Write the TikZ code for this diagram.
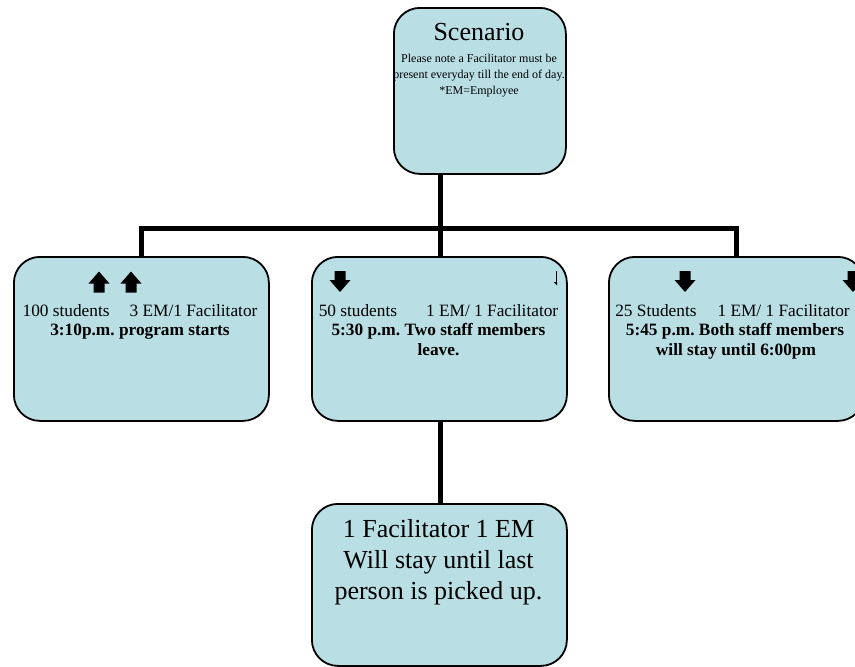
\documentclass[tikz,border=0pt]{standalone}
\usepackage{fontspec}
\setmainfont{Liberation Serif}
\frenchspacing
\definecolor{boxfill}{RGB}{185,223,228}
\tikzset{
  box/.style={draw=black, line width=1.8pt, fill=boxfill, rounded corners=26pt, inner sep=0pt, anchor=north west},
  conn/.style={line width=5pt, line join=miter},
  mid/.style={inner sep=0pt, anchor=base, font=\fontsize{17.3}{20}\selectfont},
  midb/.style={mid, font=\fontsize{17.3}{20}\selectfont\bfseries},
  big/.style={inner sep=0pt, anchor=base, font=\fontsize{26}{30}\selectfont},
  small/.style={inner sep=0pt, anchor=base, font=\fontsize{12}{14}\selectfont},
  uparr/.pic={\fill[black] (0,-10.5) -- (10.5,1.5) -- (5.5,1.5) -- (5.5,10.5) -- (-5.5,10.5) -- (-5.5,1.5) -- (-10.5,1.5) -- cycle;},
  dnarr/.pic={\fill[black] (0,10.5) -- (10.5,-1.5) -- (5.5,-1.5) -- (5.5,-10.5) -- (-5.5,-10.5) -- (-5.5,-1.5) -- (-10.5,-1.5) -- cycle;}
}
\begin{document}
\begin{tikzpicture}[x=1pt,y=-1pt]
\useasboundingbox (0,0) rectangle (855,667);
\clip (0,0) rectangle (855,667);
% boxes
\node[box, minimum width=172pt, minimum height=166pt] (scen) at (393,7) {};
\node[box, minimum width=255pt, minimum height=164pt] (left) at (13,256) {};
\node[box, minimum width=255pt, minimum height=164pt] (midbox) at (311,256) {};
\node[box, minimum width=255pt, minimum height=164pt] (right) at (608,256) {};
\node[box, minimum width=255pt, minimum height=162pt] (bot) at (311,503) {};
% connectors
\coordinate (bar) at (440,228);
\coordinate (top) at (440,173);
\draw[conn] (top) -- (top |- midbox.north);
\draw[conn] (left.north) |- (bar) -| (right.north);
\draw[conn] (midbox.south -| top) -- (bot.north -| top);
% scenario text
\node[big] (st) at (479,40) {Scenario};
\node[small] (s1) at (479,62) {Please note a Facilitator must be};
\node[small] (s2) at (479,78) {present everyday till the end of day.};
\node[small] (s3) at (479,94) {*EM=Employee};
% left box
\pic at (99,282) {uparr};
\pic at (131,282) {uparr};
\node[mid] (l1) at (140,316) {100 students\hspace{20pt}3 EM/1 Facilitator};
\node[midb] (l2) at (140,335.5) {3:10p.m. program starts};
% middle box
\pic at (340,281.5) {dnarr};
\draw[line width=0.7pt] (556,271) -- (556,283);
\fill (553.5,282) -- (557,282) -- (557,285.5) -- cycle;
\node[mid] (m1) at (438.5,316) {50 students\hspace{29pt}1 EM/ 1 Facilitator};
\node[midb] (m2) at (438.5,335.5) {5:30 p.m. Two staff members};
\node[midb] (m3) at (438.5,355) {leave.};
% right box
\pic at (685,281.5) {dnarr};
\pic at (853,281.5) {dnarr};
\node[mid] (r1) at (732.5,316) {25 Students\hspace{21pt}1 EM/ 1 Facilitator};
\node[midb] (r2) at (735,335.5) {5:45 p.m. Both staff members};
\node[midb] (r3) at (736,355) {will stay until 6:00pm};
% bottom box
\node[big] (b1) at (438.5,537) {1 Facilitator 1 EM};
\node[big] (b2) at (438.5,568) {Will stay until last};
\node[big] (b3) at (438.5,599) {person is picked up.};
\end{tikzpicture}
\end{document}
